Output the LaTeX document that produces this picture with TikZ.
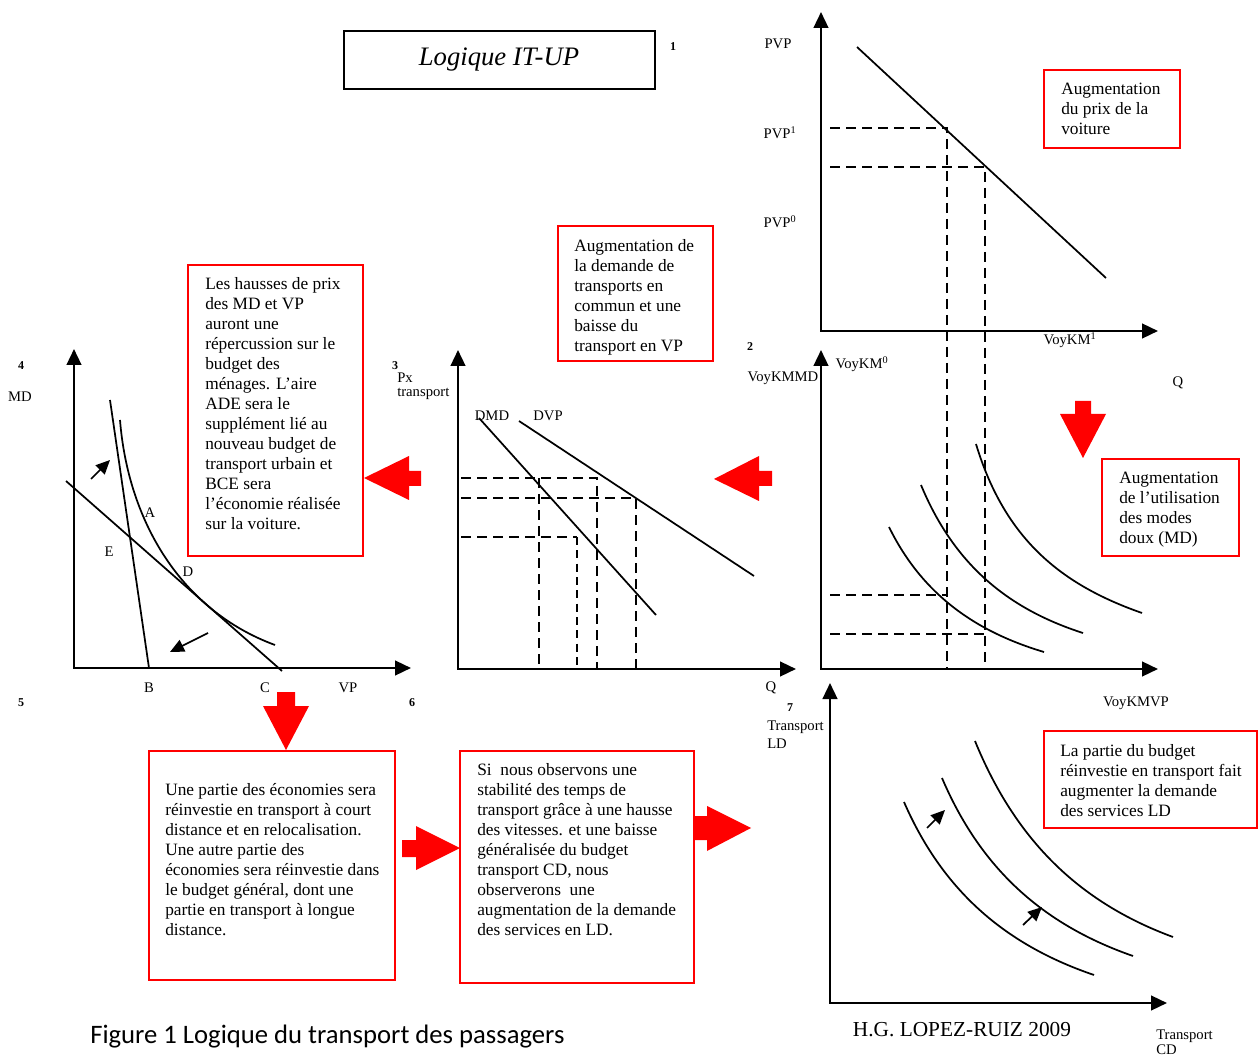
\documentclass[tikz,border=0pt]{standalone}
\usepackage{fontspec}
\setmainfont{Liberation Serif}
\newfontfamily\capfont{Carlito}
\usetikzlibrary{arrows.meta,fit}

\begin{document}
\begin{tikzpicture}[x=0.75pt,y=-0.75pt,
  >={Triangle[length=12pt,width=11pt]},
  axis/.style={line width=1.8pt,<->},
  courbe/.style={line width=1.3pt},
  tiret/.style={line width=2pt,dash pattern=on 7.5pt off 4.5pt},
  tiretfin/.style={line width=1.2pt,dash pattern=on 6pt off 4pt},
  fleche/.style={line width=1.3pt,-{Triangle[length=10.5pt,width=9.5pt]}},
  rouge/.style={fill=red},
  cadre/.style={draw=red,line width=1.3pt,inner sep=0pt},
  texte/.style={anchor=north west,inner sep=0pt,align=left,font=\fontsize{13}{15}\selectfont},
  lab/.style={font=\fontsize{11}{12}\selectfont,inner sep=0pt},
  num/.style={font=\fontsize{9}{10}\selectfont\bfseries,inner sep=0pt}]
\useasboundingbox (0,0) rectangle (1258,1059);

% titre
\node[draw,line width=1.5pt,inner sep=0pt,fit={(344,31) (655,89)}] (titre) {};
\node[inner sep=0pt,font=\fontsize{20}{24}\selectfont\itshape] (titret) at (499,60) {Logique IT-UP};
\node[num] (num1) at (673,47) {1};

% 1 : prix de la voiture
\draw[axis] (821,12) -- (821,331) -- (1158,331);
\draw[courbe] (857,47) -- (1106,278);
\draw[tiret] (830,128) -| (947,668);
\draw[tiret] (830,167) -| (985,668);
\node[lab] (pvp) at (778,44) {PVP};
\node[lab] (pvpun) at (780,133) {PVP\textsuperscript{1}};
\node[lab] (pvpzero) at (780,222) {PVP\textsuperscript{0}};
\node[lab] (voykmun) at (1070,340) {VoyKM\textsuperscript{1}};
\node[cadre,fit={(1044,70) (1180,148)}] (prixvoit) {};
\node[texte] (prixvoitt) at (1061,83) {Augmentation\\du prix de la\\voiture};

% 2 : modes doux
\draw[axis] (821,350) -- (821,669) -- (1158,669);
\draw[courbe] (889,527) .. controls (920,590) and (970,630) .. (1044,652);
\draw[courbe] (921,485) .. controls (953,562) and (1005,608) .. (1083,633);
\draw[courbe] (976,444) .. controls (1005,540) and (1062,585) .. (1142,613);
\draw[tiret] (830,595) -- (947,595);
\draw[tiret] (830,634) -- (985,634);
\node[num] (num2) at (750,347) {2};
\node[lab] (voykmmd) at (783,378) {VoyKMMD};
\node[lab] (voykmzero) at (862,364) {VoyKM\textsuperscript{0}};
\node[lab] (qdeux) at (1178,383) {Q};
\node[lab] (voykmvp) at (1136,703) {VoyKMVP};
\fill[rouge] (1075,401) -- (1091,401) -- (1091,414) -- (1106,414) -- (1083,458) -- (1060,414) -- (1075,414) -- cycle;
\node[cadre,fit={(1102,459) (1239,556)}] (modesdoux) {};
\node[texte] (modesdouxt) at (1119,472) {Augmentation\\de l’utilisation\\des modes\\doux (MD)};

% 3 : demandes MD et VP
\draw[axis] (458,350) -- (458,669) -- (796,669);
\draw[courbe] (479,418) -- (656,615);
\draw[courbe] (519,421) -- (754,576);
\draw[tiret] (461,478) -| (597,669);
\draw[tiret] (461,498) -| (636,669);
\draw[tiret] (539,478) -- (539,669);
\draw[tiret] (461,537) -- (577,537);
\draw[tiretfin] (577,537) -- (577,669);
\node[num] (num3) at (395,366) {3};
\node[lab,anchor=west] (px) at (397,378) {Px};
\node[lab,anchor=west] (pxtrans) at (397,394) {transport};
\node[lab] (dmd) at (492,416) {DMD};
\node[lab] (dvp) at (548,416) {DVP};
\node[lab] (qtrois) at (771,688) {Q};
\fill[rouge] (772,471) -- (759,471) -- (759,456) -- (714,479) -- (759,501) -- (759,486) -- (772,486) -- cycle;
\node[cadre,fit={(558,226) (713,361)}] (demande) {};
\node[texte] (demandet) at (574,239) {Augmentation de\\la demande de\\transports en\\commun et une\\baisse du\\transport en VP};

% 4 : budget des menages
\draw[axis] (74,349) -- (74,668) -- (411,668);
\draw[courbe] (110,400) -- (149,668);
\draw[courbe] (66,481) -- (282,671);
\draw[courbe] (120,420) .. controls (128,520) and (180,610) .. (275,645);
\draw[fleche] (91,479) -- (110,460);
\draw[fleche] (208,633) -- (170,652);
\node[num] (num4) at (21,366) {4};
\node[lab] (md) at (20,397) {MD};
\node[lab] (ptA) at (150,513) {A};
\node[lab] (ptE) at (109,552) {E};
\node[lab] (ptD) at (188,572) {D};
\node[lab] (ptB) at (149,688) {B};
\node[lab] (ptC) at (265,688) {C};
\node[lab] (vp) at (348,688) {VP};
\fill[rouge] (421,471) -- (409,471) -- (409,456) -- (364,478) -- (409,500) -- (409,486) -- (421,486) -- cycle;
\node[cadre,fit={(188,265) (363,556)}] (hausse) {};
\node[texte] (hausset) at (205,277) {Les hausses de prix\\des MD et VP\\auront une\\répercussion sur le\\budget des\\ménages. L’aire\\ADE sera le\\supplément lié au\\nouveau budget de\\transport urbain et\\BCE sera\\l’économie réalisée\\sur la voiture.};

% 5 et 6 : reinvestissement
\node[num] (num5) at (21,703) {5};
\node[num] (num6) at (412,703) {6};
\fill[rouge] (277,692) -- (295,692) -- (295,706) -- (309,706) -- (286,750) -- (263,706) -- (277,706) -- cycle;
\node[cadre,fit={(149,751) (395,980)}] (economies) {};
\node[texte] (economiest) at (165,783) {Une partie des économies sera\\réinvestie en transport à court\\distance et en relocalisation.\\Une autre partie des\\économies sera réinvestie dans\\le budget général, dont une\\partie en transport à longue\\distance.};
\fill[rouge] (402,840) -- (416,840) -- (416,826) -- (460,848) -- (416,870) -- (416,857) -- (402,857) -- cycle;
\node[cadre,fit={(460,751) (694,983)}] (stabilite) {};
\node[texte] (stabilitet) at (477,763) {Si~ nous observons une\\stabilité des temps de\\transport grâce à une hausse\\des vitesses. et une baisse\\généralisée du budget\\transport CD, nous\\observerons~ une\\augmentation de la demande\\des services en LD.};
\fill[rouge] (694,816) -- (707,816) -- (707,806) -- (751,828) -- (707,851) -- (707,840) -- (694,840) -- cycle;

% 7 : transport longue distance
\draw[axis] (830,683) -- (830,1003) -- (1167,1003);
\draw[courbe] (904,802) .. controls (942,889) and (1003,944) .. (1094,975);
\draw[courbe] (942,778) .. controls (980,867) and (1041,924) .. (1133,956);
\draw[courbe] (975,741) .. controls (1015,839) and (1078,902) .. (1173,937);
\draw[fleche] (927,828) -- (945,810);
\draw[fleche] (1023,925) -- (1042,907);
\node[num] (num7) at (790,708) {7};
\node[lab,anchor=west] (trld) at (767,727) {Transport};
\node[lab,anchor=west] (ld) at (767,744) {LD};
\node[lab,anchor=west] (trcd) at (1156,1036) {Transport};
\node[lab,anchor=west] (cd) at (1156,1050) {CD};
\node[cadre,fit={(1044,731) (1257,828)}] (servld) {};
\node[texte] (servldt) at (1060,744) {La partie du budget\\réinvestie en transport fait\\augmenter la demande\\des services LD};

% legende
\node[font=\fontsize{16}{19}\selectfont,inner sep=0pt] (auteur) at (962,1030) {H.G. LOPEZ-RUIZ 2009};
\node[font=\capfont\fontsize{20}{24}\selectfont,inner sep=0pt,anchor=west] (legende) at (90,1037) {Figure 1 Logique du transport des passagers};
\end{tikzpicture}
\end{document}
